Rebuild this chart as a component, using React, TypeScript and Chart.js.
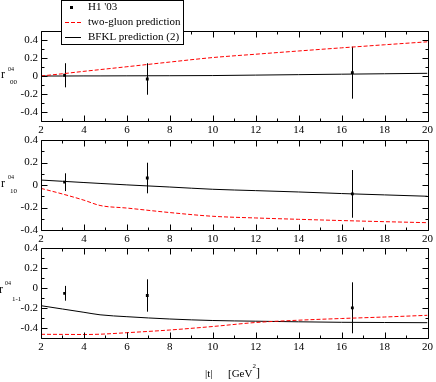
import React, { useEffect, useRef } from "react";
import { Chart, registerables } from "chart.js";

Chart.register(...registerables);

const SERIF = "'Liberation Serif', 'Times New Roman', Times, serif";
Chart.defaults.font.family = SERIF;
Chart.defaults.color = "#000";

// ---- data ----
const xTicks = [2, 4, 6, 8, 10, 12, 14, 16, 18, 20];
const xMinorTicks = [3, 5, 7, 9, 11, 13, 15, 17, 19];
const yTicks = [-0.4, -0.2, 0, 0.2, 0.4];

const dataX = [3.1, 6.95, 16.5];
const r00Values = [0.008, -0.033, 0.037];
const r00Errors = [0.134, 0.175, 0.289];
const r10Values = [0.025, 0.062, -0.079];
const r10Errors = [0.079, 0.136, 0.212];
const r11Values = [-0.053, -0.075, -0.198];
const r11Errors = [0.074, 0.162, 0.255];

const curveX = [2, 3, 4, 4.75, 6, 8, 10, 12, 14, 16, 18, 20];
const twoGluon00 = [0, 0.025, 0.052, 0.071, 0.103, 0.155, 0.205, 0.242, 0.278, 0.313, 0.347, 0.38];
const bfkl00 = [0, 0, 0.001, 0.001, 0.002, 0.003, 0.005, 0.01, 0.015, 0.02, 0.025, 0.03];
const twoGluon10 = [-0.03, -0.08, -0.135, -0.182, -0.205, -0.245, -0.278, -0.293, -0.305, -0.316, -0.326, -0.335];
const bfkl10 = [0.044, 0.033, 0.022, 0.014, 0.001, -0.018, -0.038, -0.05, -0.062, -0.076, -0.088, -0.1];
const twoGluon11 = [-0.463, -0.464, -0.465, -0.462, -0.447, -0.42, -0.385, -0.345, -0.322, -0.305, -0.29, -0.273];
const bfkl11 = [-0.177, -0.21, -0.243, -0.268, -0.287, -0.31, -0.325, -0.332, -0.338, -0.343, -0.345, -0.347];

const legendLabels = ["H1 '03", "two-gluon prediction", "BFKL prediction (2)"];
const subscripts = ["00", "10", "1-1"];

// ---- layout ----
const W = 436;
const H = 382;
const AREA_H = 90;
const X_AXIS_H = 20;
const Y_AXIS_W = 41;

const panels = [
  {
    values: r00Values, errors: r00Errors, twoGluon: twoGluon00, bfkl: bfkl00,
    yMin: -0.5, yMax: 0.5, yMinor: [-0.5, -0.3, -0.1, 0.1, 0.3, 0.5], top: 31,
    title: { rx: 1, ry: 78, supX: 8, supY: 71, subX: 10, subY: 84 }, sub: subscripts[0],
    legend: true, xTitle: false,
  },
  {
    values: r10Values, errors: r10Errors, twoGluon: twoGluon10, bfkl: bfkl10,
    yMin: -0.4, yMax: 0.4, yMinor: [-0.3, -0.1, 0.1, 0.3], top: 140,
    title: { rx: 1, ry: 187, supX: 8, supY: 179, subX: 10, subY: 193 }, sub: subscripts[1],
    legend: false, xTitle: false,
  },
  {
    values: r11Values, errors: r11Errors, twoGluon: twoGluon11, bfkl: bfkl11,
    yMin: -0.5, yMax: 0.4, yMinor: [-0.5, -0.3, -0.1, 0.1, 0.3], top: 248,
    title: { rx: -1, ry: 293, supX: 5, supY: 285, subX: 12, subY: 301 }, sub: subscripts[2],
    legend: false, xTitle: true,
  },
];

type PanelCfg = (typeof panels)[number];

function makeChart(canvas: HTMLCanvasElement, cfg: PanelCfg) {
  const tickFont = { family: SERIF, size: 11 };
  const framePlugin = {
    id: "frame",
    beforeDatasetsDraw(chart: any) {
      const { ctx, scales } = chart;
      const x = scales.x, y = scales.y;
      ctx.save();
      ctx.strokeStyle = "#000";
      ctx.lineWidth = 1;
      dataX.forEach((xv, i) => {
        const px = Math.round(x.getPixelForValue(xv)) + 0.5;
        const y1 = y.getPixelForValue(cfg.values[i] + cfg.errors[i]);
        const y2 = y.getPixelForValue(cfg.values[i] - cfg.errors[i]);
        ctx.beginPath();
        ctx.moveTo(px, y1);
        ctx.lineTo(px, y2);
        ctx.stroke();
      });
      ctx.restore();
    },
    afterDraw(chart: any) {
      const { ctx, chartArea, scales } = chart;
      const { left, right, top, bottom } = chartArea;
      const x = scales.x, y = scales.y;
      ctx.save();
      ctx.strokeStyle = "#000";
      ctx.lineWidth = 1;
      const L = Math.round(left) + 0.5, R = Math.round(right) + 0.5;
      const T = Math.round(top) + 0.5, B = Math.round(bottom) + 0.5;
      ctx.beginPath();
      ctx.rect(L, T, R - L, B - T);
      ctx.stroke();
      const xt = (vals: number[], len: number) => {
        vals.forEach((v) => {
          const px = Math.round(x.getPixelForValue(v)) + 0.5;
          ctx.beginPath();
          ctx.moveTo(px, B); ctx.lineTo(px, B - len);
          ctx.moveTo(px, T); ctx.lineTo(px, T + len);
          ctx.stroke();
        });
      };
      const yt = (vals: number[], len: number) => {
        vals.forEach((v) => {
          const py = Math.round(y.getPixelForValue(v)) + 0.5;
          ctx.beginPath();
          ctx.moveTo(L, py); ctx.lineTo(L + len, py);
          ctx.moveTo(R, py); ctx.lineTo(R - len, py);
          ctx.stroke();
        });
      };
      xt(xTicks, 6);
      xt(xMinorTicks, 3);
      yt(yTicks, 6);
      yt(cfg.yMinor, 3);

      // y title: r with superscript and subscript
      ctx.fillStyle = "#000";
      ctx.textAlign = "left";
      ctx.textBaseline = "alphabetic";
      const t = cfg.title;
      ctx.font = `12px ${SERIF}`;
      ctx.fillText("r", t.rx, t.ry);
      ctx.font = `6px ${SERIF}`;
      ctx.fillText("04", t.supX, t.supY);
      ctx.font = `7px ${SERIF}`;
      ctx.fillText(cfg.sub, t.subX, t.subY);

      if (cfg.xTitle) {
        ctx.font = `11px ${SERIF}`;
        ctx.fillText("|t|", 205, 377);
        ctx.fillText("[GeV", 228, 377);
        const w = ctx.measureText("[GeV").width;
        ctx.font = `7px ${SERIF}`;
        ctx.fillText("2", 228 + w, 368);
        ctx.font = `12px ${SERIF}`;
        ctx.fillText("]", 228 + w + 3.5, 377);
      }

      if (cfg.legend) {
        const bx = 61.5, by = 0.5, bw = 122, bh = 44;
        ctx.fillStyle = "#fff";
        ctx.fillRect(bx, by, bw, bh);
        ctx.strokeStyle = "#000";
        ctx.strokeRect(bx, by, bw, bh);
        const rows = [7.5, 22.5, 37.5];
        ctx.fillStyle = "#000";
        ctx.fillRect(70, rows[0] - 1.5, 3, 3);
        ctx.strokeStyle = "#ff0000";
        ctx.setLineDash([4, 2]);
        ctx.beginPath();
        ctx.moveTo(65, rows[1]); ctx.lineTo(81, rows[1]);
        ctx.stroke();
        ctx.setLineDash([]);
        ctx.strokeStyle = "#000";
        ctx.beginPath();
        ctx.moveTo(65, rows[2]); ctx.lineTo(81, rows[2]);
        ctx.stroke();
        ctx.font = `11px ${SERIF}`;
        ctx.textBaseline = "middle";
        ctx.fillStyle = "#000";
        legendLabels.forEach((lab, i) => ctx.fillText(lab, 88, rows[i]));
      }
      ctx.restore();
    },
  };

  return new Chart(canvas, {
    type: "scatter",
    data: {
      datasets: [
        {
          label: legendLabels[1],
          data: curveX.map((xv, i) => ({ x: xv, y: cfg.twoGluon[i] })),
          showLine: true,
          borderColor: "#ff0000",
          borderWidth: 1,
          borderDash: [4, 2],
          pointRadius: 0,
          cubicInterpolationMode: "monotone",
        },
        {
          label: legendLabels[2],
          data: curveX.map((xv, i) => ({ x: xv, y: cfg.bfkl[i] })),
          showLine: true,
          borderColor: "#000",
          borderWidth: 1,
          pointRadius: 0,
          cubicInterpolationMode: "monotone",
        },
        {
          label: legendLabels[0],
          data: dataX.map((xv, i) => ({ x: xv, y: cfg.values[i] })),
          showLine: false,
          pointStyle: "rect",
          pointRadius: 2,
          backgroundColor: "#000",
          borderWidth: 0,
        },
      ],
    },
    options: {
      animation: false,
      responsive: false,
      devicePixelRatio: 1,
      events: [],
      layout: {
        padding: { left: 0, right: 7, top: cfg.top, bottom: H - cfg.top - AREA_H - X_AXIS_H },
      },
      plugins: { legend: { display: false }, tooltip: { enabled: false } },
      scales: {
        x: {
          type: "linear",
          min: 2,
          max: 20,
          afterBuildTicks: (s: any) => { s.ticks = xTicks.map((v) => ({ value: v })); },
          afterFit: (s: any) => { s.height = X_AXIS_H; },
          grid: { display: false, drawTicks: false },
          border: { display: false },
          ticks: {
            padding: 3, font: tickFont, color: "#000", autoSkip: false, maxRotation: 0,
            callback: (v: any) => String(v),
          },
        },
        y: {
          type: "linear",
          min: cfg.yMin,
          max: cfg.yMax,
          afterBuildTicks: (s: any) => { s.ticks = yTicks.map((v) => ({ value: v })); },
          afterFit: (s: any) => { s.width = Y_AXIS_W; },
          grid: { display: false, drawTicks: false },
          border: { display: false },
          ticks: {
            padding: 3, font: tickFont, color: "#000",
            callback: (v: any) => (Math.abs(v) < 1e-9 ? "0" : Number(v).toFixed(1)),
          },
        },
      },
    } as any,
    plugins: [framePlugin],
  });
}

function Panel({ cfg }: { cfg: PanelCfg }) {
  const ref = useRef<HTMLCanvasElement>(null);
  useEffect(() => {
    const chart = makeChart(ref.current as HTMLCanvasElement, cfg);
    return () => chart.destroy();
  }, [cfg]);
  return (
    <canvas
      ref={ref}
      width={W}
      height={H}
      style={{ position: "absolute", left: 0, top: 0, width: W, height: H, display: "block" }}
    />
  );
}

export default function App() {
  return (
    <div style={{ position: "absolute", left: 0, top: 0, width: W, height: H, background: "#fff", overflow: "hidden" }}>
      {panels.map((p, i) => (
        <Panel key={i} cfg={p} />
      ))}
    </div>
  );
}
